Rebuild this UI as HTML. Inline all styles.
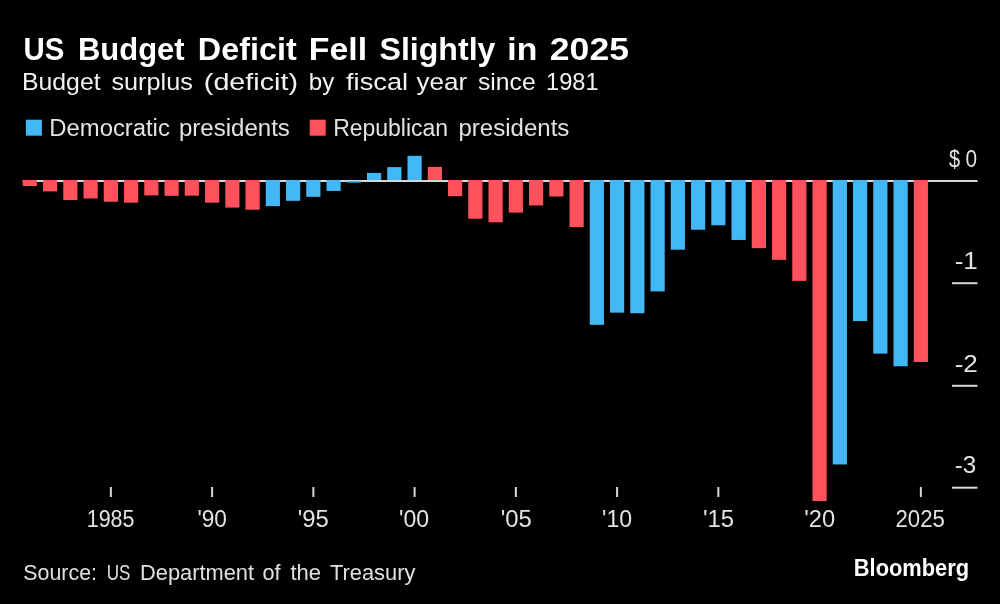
<!DOCTYPE html>
<html><head><meta charset="utf-8">
<style>
html,body{margin:0;padding:0;background:#000;width:1000px;height:604px;overflow:hidden}
svg{display:block;will-change:transform}
text{font-family:"Liberation Sans",sans-serif}
</style></head>
<body>
<svg width="1000" height="604" viewBox="0 0 1000 604">
<rect width="1000" height="604" fill="#000"/>
<rect x="25.9" y="119.7" width="16" height="16" fill="#42b8f7"/>
<rect x="309.7" y="119.7" width="16" height="16" fill="#ff525c"/>
<g fill="#d6d6d6">
<rect x="22.7" y="180" width="954.8" height="2"/>
<rect x="952" y="282.2" width="25.5" height="2"/>
<rect x="952" y="384.8" width="25.5" height="2"/>
<rect x="952" y="486.7" width="25.5" height="2"/>
<rect x="109.85" y="487" width="2" height="10" fill="#d6d6d6"/>
<rect x="211.10" y="487" width="2" height="10" fill="#d6d6d6"/>
<rect x="312.35" y="487" width="2" height="10" fill="#d6d6d6"/>
<rect x="413.60" y="487" width="2" height="10" fill="#d6d6d6"/>
<rect x="514.85" y="487" width="2" height="10" fill="#d6d6d6"/>
<rect x="616.10" y="487" width="2" height="10" fill="#d6d6d6"/>
<rect x="717.35" y="487" width="2" height="10" fill="#d6d6d6"/>
<rect x="818.60" y="487" width="2" height="10" fill="#d6d6d6"/>
<rect x="919.85" y="487" width="2" height="10" fill="#d6d6d6"/>
</g>
<rect x="22.75" y="180.00" width="14.2" height="6.05" fill="#ff525c"/>
<rect x="43.00" y="180.00" width="14.2" height="11.38" fill="#ff525c"/>
<rect x="63.25" y="180.00" width="14.2" height="20.09" fill="#ff525c"/>
<rect x="83.50" y="180.00" width="14.2" height="18.45" fill="#ff525c"/>
<rect x="103.75" y="180.00" width="14.2" height="21.73" fill="#ff525c"/>
<rect x="124.00" y="180.00" width="14.2" height="22.65" fill="#ff525c"/>
<rect x="144.25" y="180.00" width="14.2" height="15.38" fill="#ff525c"/>
<rect x="164.50" y="180.00" width="14.2" height="15.89" fill="#ff525c"/>
<rect x="184.75" y="180.00" width="14.2" height="15.68" fill="#ff525c"/>
<rect x="205.00" y="180.00" width="14.2" height="22.65" fill="#ff525c"/>
<rect x="225.25" y="180.00" width="14.2" height="27.57" fill="#ff525c"/>
<rect x="245.50" y="180.00" width="14.2" height="29.72" fill="#ff525c"/>
<rect x="265.75" y="180.00" width="14.2" height="26.14" fill="#42b8f7"/>
<rect x="286.00" y="180.00" width="14.2" height="20.81" fill="#42b8f7"/>
<rect x="306.25" y="180.00" width="14.2" height="16.81" fill="#42b8f7"/>
<rect x="326.50" y="180.00" width="14.2" height="10.97" fill="#42b8f7"/>
<rect x="346.75" y="181" width="14.2" height="1.6" fill="#42b8f7"/>
<rect x="367.00" y="172.93" width="14.2" height="7.07" fill="#42b8f7"/>
<rect x="387.25" y="167.09" width="14.2" height="12.92" fill="#42b8f7"/>
<rect x="407.50" y="155.81" width="14.2" height="24.19" fill="#42b8f7"/>
<rect x="427.75" y="166.88" width="14.2" height="13.12" fill="#ff525c"/>
<rect x="448.00" y="180.00" width="14.2" height="16.20" fill="#ff525c"/>
<rect x="468.25" y="180.00" width="14.2" height="38.74" fill="#ff525c"/>
<rect x="488.50" y="180.00" width="14.2" height="42.33" fill="#ff525c"/>
<rect x="508.75" y="180.00" width="14.2" height="32.59" fill="#ff525c"/>
<rect x="529.00" y="180.00" width="14.2" height="25.42" fill="#ff525c"/>
<rect x="549.25" y="180.00" width="14.2" height="16.50" fill="#ff525c"/>
<rect x="569.50" y="180.00" width="14.2" height="47.05" fill="#ff525c"/>
<rect x="589.75" y="180.00" width="14.2" height="144.83" fill="#42b8f7"/>
<rect x="610.00" y="180.00" width="14.2" height="132.63" fill="#42b8f7"/>
<rect x="630.25" y="180.00" width="14.2" height="133.25" fill="#42b8f7"/>
<rect x="650.50" y="180.00" width="14.2" height="111.42" fill="#42b8f7"/>
<rect x="670.75" y="180.00" width="14.2" height="69.70" fill="#42b8f7"/>
<rect x="691.00" y="180.00" width="14.2" height="49.71" fill="#42b8f7"/>
<rect x="711.25" y="180.00" width="14.2" height="45.30" fill="#42b8f7"/>
<rect x="731.50" y="180.00" width="14.2" height="59.96" fill="#42b8f7"/>
<rect x="751.75" y="180.00" width="14.2" height="68.16" fill="#ff525c"/>
<rect x="772.00" y="180.00" width="14.2" height="79.85" fill="#ff525c"/>
<rect x="792.25" y="180.00" width="14.2" height="100.86" fill="#ff525c"/>
<rect x="812.50" y="180.00" width="14.2" height="321.03" fill="#ff525c"/>
<rect x="832.75" y="180.00" width="14.2" height="284.44" fill="#42b8f7"/>
<rect x="853.00" y="180.00" width="14.2" height="141.04" fill="#42b8f7"/>
<rect x="873.25" y="180.00" width="14.2" height="173.63" fill="#42b8f7"/>
<rect x="893.50" y="180.00" width="14.2" height="186.24" fill="#42b8f7"/>
<rect x="913.75" y="180.00" width="14.2" height="181.94" fill="#ff525c"/>
<g font-size="30.5" font-weight="bold" fill="#ffffff">
<text x="23.54" y="59.6" textLength="40.79" lengthAdjust="spacingAndGlyphs">US</text>
<text x="77.97" y="59.6" textLength="106.69" lengthAdjust="spacingAndGlyphs">Budget</text>
<text x="197.88" y="59.6" textLength="98.79" lengthAdjust="spacingAndGlyphs">Deficit</text>
<text x="308.78" y="59.6" textLength="58.36" lengthAdjust="spacingAndGlyphs">Fell</text>
<text x="379.50" y="59.6" textLength="115.96" lengthAdjust="spacingAndGlyphs">Slightly</text>
<text x="507.28" y="59.6" textLength="30.02" lengthAdjust="spacingAndGlyphs">in</text>
<text x="549.83" y="59.6" textLength="79.12" lengthAdjust="spacingAndGlyphs">2025</text>
</g>
<g font-size="24.5" font-weight="normal" fill="#f2f2f2">
<text x="21.97" y="90.0" textLength="78.63" lengthAdjust="spacingAndGlyphs">Budget</text>
<text x="111.50" y="90.0" textLength="81.26" lengthAdjust="spacingAndGlyphs">surplus</text>
<text x="203.83" y="90.0" textLength="94.13" lengthAdjust="spacingAndGlyphs">(deficit)</text>
<text x="308.82" y="90.0" textLength="25.45" lengthAdjust="spacingAndGlyphs">by</text>
<text x="346.00" y="90.0" textLength="62.11" lengthAdjust="spacingAndGlyphs">fiscal</text>
<text x="416.50" y="90.0" textLength="50.67" lengthAdjust="spacingAndGlyphs">year</text>
<text x="478.00" y="90.0" textLength="57.63" lengthAdjust="spacingAndGlyphs">since</text>
<text x="546.04" y="90.0" textLength="52.57" lengthAdjust="spacingAndGlyphs">1981</text>
</g>
<g font-size="24.7" font-weight="normal" fill="#e3e3e3">
<text x="49.37" y="135.6" textLength="120.46" lengthAdjust="spacingAndGlyphs">Democratic</text>
<text x="179.03" y="135.6" textLength="110.81" lengthAdjust="spacingAndGlyphs">presidents</text>
<text x="333.14" y="135.6" textLength="115.04" lengthAdjust="spacingAndGlyphs">Republican</text>
<text x="458.53" y="135.6" textLength="110.81" lengthAdjust="spacingAndGlyphs">presidents</text>
</g>
<g font-size="21.8" font-weight="normal" fill="#e0e0e0">
<text x="23.30" y="579.8" textLength="73.74" lengthAdjust="spacingAndGlyphs">Source:</text>
<text x="106.72" y="579.8" textLength="23.70" lengthAdjust="spacingAndGlyphs">US</text>
<text x="140.00" y="579.8" textLength="114.06" lengthAdjust="spacingAndGlyphs">Department</text>
<text x="262.50" y="579.8" textLength="18.06" lengthAdjust="spacingAndGlyphs">of</text>
<text x="290.50" y="579.8" textLength="30.62" lengthAdjust="spacingAndGlyphs">the</text>
<text x="330.00" y="579.8" textLength="85.40" lengthAdjust="spacingAndGlyphs">Treasury</text>
</g>
<g font-size="24.5" font-weight="bold" fill="#ffffff">
<text x="853.81" y="576.2" textLength="115.25" lengthAdjust="spacingAndGlyphs">Bloomberg</text>
</g>
<g font-size="23.5" font-weight="normal" fill="#e3e3e3">
<text x="86.79" y="527.2" textLength="47.68" lengthAdjust="spacingAndGlyphs">1985</text>
<text x="197.44" y="527.2" textLength="29.53" lengthAdjust="spacingAndGlyphs">'90</text>
<text x="297.68" y="527.2" textLength="31.09" lengthAdjust="spacingAndGlyphs">'95</text>
<text x="399.02" y="527.2" textLength="30.05" lengthAdjust="spacingAndGlyphs">'00</text>
<text x="500.68" y="527.2" textLength="31.09" lengthAdjust="spacingAndGlyphs">'05</text>
<text x="602.02" y="527.2" textLength="30.05" lengthAdjust="spacingAndGlyphs">'10</text>
<text x="702.98" y="527.2" textLength="31.09" lengthAdjust="spacingAndGlyphs">'15</text>
<text x="804.19" y="527.2" textLength="30.88" lengthAdjust="spacingAndGlyphs">'20</text>
<text x="895.56" y="527.2" textLength="49.31" lengthAdjust="spacingAndGlyphs">2025</text>
</g>
<g font-size="23.5" font-weight="normal" fill="#e3e3e3">
<text x="949.00" y="166.5" textLength="11.06" lengthAdjust="spacingAndGlyphs">$</text>
<text x="965.50" y="166.5" textLength="11.56" lengthAdjust="spacingAndGlyphs">0</text>
<text x="954.69" y="268.8" textLength="23.20" lengthAdjust="spacingAndGlyphs">-1</text>
<text x="954.69" y="371.5" textLength="23.20" lengthAdjust="spacingAndGlyphs">-2</text>
<text x="954.77" y="473.0" textLength="21.50" lengthAdjust="spacingAndGlyphs">-3</text>
</g>
</svg>
</body></html>
